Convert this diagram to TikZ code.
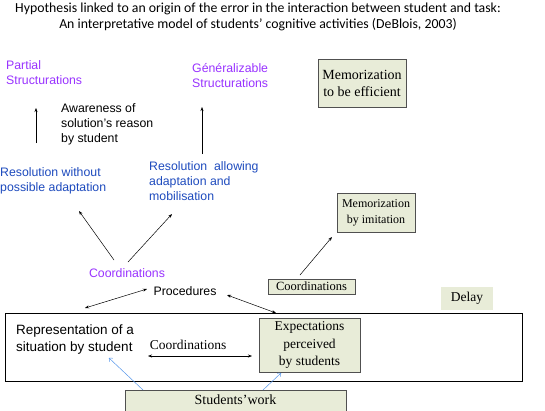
\documentclass[tikz,border=0pt]{standalone}
\usepackage{fontspec}
\setmainfont{Liberation Serif}
\newfontfamily\arialfont{Liberation Sans}
\newfontfamily\calibrifont{Carlito}
\usetikzlibrary{arrows.meta}
\definecolor{purp}{RGB}{153,51,255}
\definecolor{resblue}{RGB}{30,75,190}
\definecolor{workblue}{RGB}{85,150,235}
\definecolor{boxfill}{RGB}{232,236,216}
\definecolor{boxline}{RGB}{80,80,80}

\begin{document}
\begin{tikzpicture}[x=1pt,y=-1pt,
  lbl/.style={font=\arialfont\fontsize{12.3}{15}\selectfont, align=left, inner sep=0pt, anchor=west},
  sbox/.style={draw=boxline, fill=boxfill, line width=0.8pt, align=center, inner sep=0pt, font=\fontsize{13.5}{17}\selectfont},
  arr/.style={-{Stealth[length=4pt,width=3pt]}, line width=0.5pt},
  darr/.style={{Stealth[length=4pt,width=3pt]}-{Stealth[length=4pt,width=3pt]}, line width=0.5pt},
  warr/.style={-{To[length=3pt,width=5pt]}, draw=workblue, line width=0.5pt}]
\clip (0,0) rectangle (545,410);
\fill[white] (0,0) rectangle (545,410);
\node[font=\calibrifont\fontsize{13.8}{16}\selectfont, align=center] (title) at (258,17)
  {Hypothesis linked to an origin of the error in the interaction between student and task:\\
   An interpretative model of students’ cognitive activities (DeBlois, 2003)};
\node[lbl, text=purp] (partial) at (6,72.5) {Partial\\Structurations};
\node[lbl, text=purp] (general) at (192,75.5) {Généralizable\\Structurations};
\node[sbox, minimum width=88pt, minimum height=48pt, font=\fontsize{14}{17}\selectfont] (memeff) at (362,83) {Memorization\\to be efficient};
\node[lbl] (aware) at (61,124) {Awareness of\\solution’s reason\\by student};
\node[lbl, text=resblue] (resnone) at (0,180.5) {Resolution without\\possible adaptation};
\node[lbl, text=resblue] (resallow) at (149,181.5) {Resolution\ \ allowing\\adaptation and\\mobilisation};
\node[sbox, minimum width=78pt, minimum height=39pt, font=\fontsize{12}{16}\selectfont] (memimit) at (376,212.5) {Memorization\\by imitation};
\node[lbl, anchor=center, text=purp] (coord) at (127,273) {Coordinations};
\node[lbl, anchor=center] (proc) at (185,291) {Procedures};
\node[sbox, minimum width=87pt, minimum height=15pt, font=\fontsize{12.5}{15}\selectfont] (coordbox) at (311.5,286.5) {Coordinations};
\node[fill=boxfill, minimum width=52pt, minimum height=23pt, inner sep=0pt, font=\fontsize{13.5}{17}\selectfont] (delay) at (467,298.5) {Delay};
\node[draw, line width=0.6pt, minimum width=517pt, minimum height=68pt, inner sep=0pt] (frame) at (263.5,347) {};
\node[lbl, font=\arialfont\fontsize{13.5}{17}\selectfont] (repr) at (16,339.5) {Representation of a\\situation by student};
\node[inner sep=0pt, font=\fontsize{13.5}{17}\selectfont] (coordmid) at (188,345) {Coordinations};
\node[sbox, minimum width=101pt, minimum height=54pt, font=\fontsize{13.5}{17.5}\selectfont] (expect) at (309.5,345) {Expectations\\perceived\\by students};
\node[sbox, minimum width=221pt, minimum height=25pt, anchor=north] (work) at (235.5,390) {};
\node[inner sep=0pt, font=\fontsize{14}{17}\selectfont] (worktext) at (235.5,400) {Students’work};
\coordinate (pa1) at (36,143);
\coordinate (pa2) at (36,108);
\coordinate (ga1) at (202,154);
\coordinate (ga2) at (202,107);
\coordinate (ca1) at (114,260);
\coordinate (ca2) at (79,211);
\coordinate (cb1) at (128,262);
\coordinate (cb2) at (172,214);
\coordinate (pr1) at (85,308);
\coordinate (pr2) at (147,289);
\coordinate (pr3) at (227,295);
\coordinate (pr4) at (276,313);
\coordinate (cm1) at (148,356);
\coordinate (cm2) at (252,356);
\coordinate (mi1) at (300,275);
\coordinate (mi2) at (332,237);
\coordinate (wa1) at (143,390);
\coordinate (wa2) at (109,358);
\coordinate (wb1) at (263,390);
\coordinate (wb2) at (281,373);
\draw[arr] (pa1) -- (pa2);
\draw[arr] (ga1) -- (ga2);
\draw[arr] (ca1) -- (ca2);
\draw[arr] (cb1) -- (cb2);
\draw[darr] (pr1) -- (pr2);
\draw[darr] (pr3) -- (pr4);
\draw[darr] (cm1) -- (cm2);
\draw[arr] (mi1) -- (mi2);
\draw[warr] (wa1) -- (wa2);
\draw[warr] (wb1) -- (wb2);
\end{tikzpicture}
\end{document}
